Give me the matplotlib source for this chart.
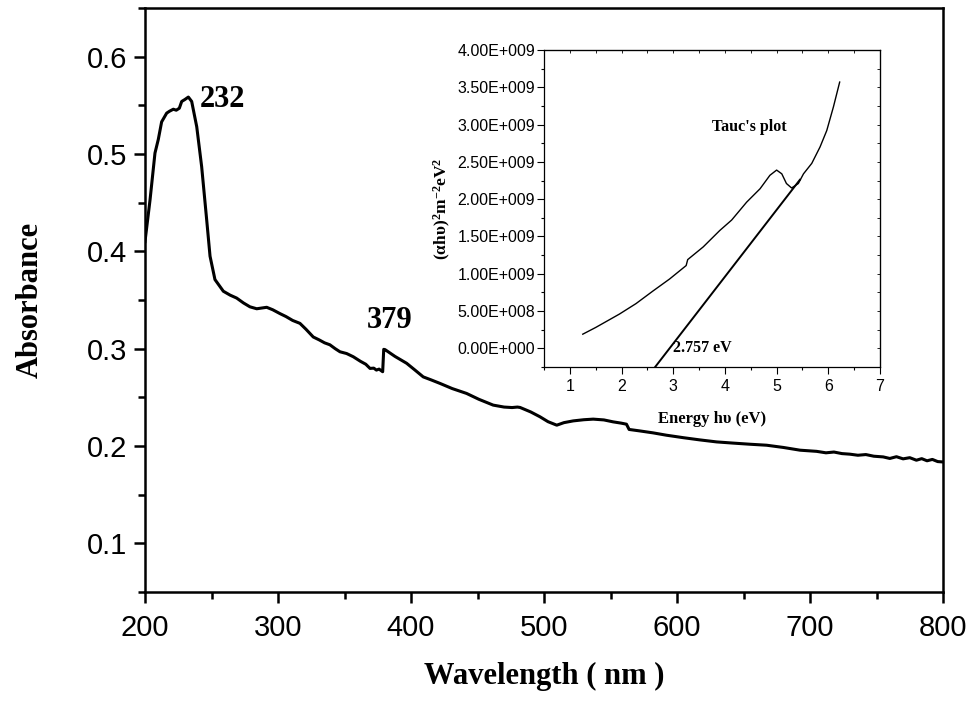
import matplotlib
matplotlib.use("Agg")
import matplotlib.pyplot as plt
from matplotlib.ticker import MultipleLocator, FuncFormatter, NullFormatter

# ---------------- data ----------------
wavelength = [200, 203.8, 207.5, 210, 212.5, 216.3, 218.5, 221.3, 223.5, 225.8, 227.6, 230,
              232.6, 235.1, 238.9, 242.6, 246.4, 248.9, 252.6, 258.9, 264, 268.9, 274,
              278.9, 284, 291.5, 296, 301.5, 306, 311, 316.5, 321, 326.5, 331, 335, 339,
              343, 346.6, 351.6, 356.6, 362, 366, 369.2, 372, 374, 376, 378.7, 379.5,
              380.5, 388, 396.7, 403, 409.2, 415, 421.8, 431, 441.8, 451, 461.8, 470, 476,
              480, 482, 490, 497, 503, 509.6, 515, 522, 530, 537, 545, 552, 558, 562, 564,
              572, 582, 592, 605, 617, 629.8, 642, 655, 667.4, 680, 692.5, 705, 712, 718,
              724, 730, 736, 742, 748, 755, 760, 765, 770, 775, 780, 784, 788, 792, 796, 799]
absorbance = [0.410, 0.453, 0.501, 0.515, 0.533, 0.542, 0.544, 0.546, 0.545, 0.547, 0.554, 0.556,
              0.5585, 0.554, 0.528, 0.487, 0.432, 0.395, 0.371, 0.359, 0.355, 0.352, 0.347,
              0.343, 0.341, 0.3425, 0.340, 0.336, 0.333, 0.329, 0.326, 0.320, 0.312, 0.309, 0.306, 0.304,
              0.300, 0.2968, 0.295, 0.2917, 0.287, 0.284, 0.2797, 0.280, 0.278, 0.279, 0.2763, 0.2993,
              0.299, 0.292, 0.285, 0.278, 0.271, 0.268, 0.2643, 0.259, 0.254, 0.248, 0.242, 0.240, 0.2395,
              0.2400, 0.2396, 0.235, 0.230, 0.225, 0.2214, 0.224, 0.2258, 0.2270, 0.2276, 0.2268, 0.2248, 0.2235, 0.2224, 0.217,
              0.2155, 0.2135, 0.2111, 0.2085, 0.2063, 0.2042, 0.2030, 0.2018, 0.2008, 0.1985, 0.1957, 0.1945, 0.1930, 0.1938,
              0.1922, 0.1916, 0.1905, 0.1912, 0.1895, 0.1888, 0.1872, 0.1890, 0.1868, 0.1880, 0.1854, 0.1870, 0.1848, 0.1862, 0.1840, 0.1837]

energy = [1.25, 1.50, 1.96, 2.28, 2.61, 2.93, 3.25, 3.28, 3.58, 3.90, 4.13, 4.42, 4.68,
          4.87, 5.00, 5.10, 5.19, 5.29, 5.42, 5.52, 5.68, 5.84, 5.97, 6.10, 6.22]
tauc = [0.19e9, 0.28e9, 0.46e9, 0.60e9, 0.77e9, 0.93e9, 1.11e9, 1.19e9, 1.36e9, 1.58e9,
        1.72e9, 1.96e9, 2.14e9, 2.32e9, 2.39e9, 2.34e9, 2.21e9, 2.15e9, 2.21e9, 2.34e9,
        2.48e9, 2.70e9, 2.92e9, 3.24e9, 3.57e9]
fit_energy = [2.65, 5.45]
fit_tauc = [-0.25e9, 2.26e9]

peak_labels = ["232", "379"]
peak_pos = [(241, 0.556), (367, 0.329)]

# ---------------- figure ----------------
plt.rcParams['mathtext.fontset'] = 'custom'
plt.rcParams['mathtext.rm'] = 'Liberation Serif:bold'
plt.rcParams['mathtext.bf'] = 'Liberation Serif:bold'
plt.rcParams['mathtext.it'] = 'Liberation Serif:bold'

SANS_NARROW = ['Liberation Sans Narrow', 'Liberation Sans']

fig = plt.figure(figsize=(9.73, 7.02), dpi=100)
ax = fig.add_axes([145/973, 1-592/702, (943-145)/973, (592-8)/702])

ax.plot(wavelength, absorbance, color='black', lw=2.2)
ax.set_xlim(200, 800)
ax.set_ylim(0.05, 0.65)
ax.xaxis.set_major_locator(MultipleLocator(100))
ax.xaxis.set_minor_locator(MultipleLocator(50))
ax.yaxis.set_major_locator(MultipleLocator(0.1))
ax.yaxis.set_minor_locator(MultipleLocator(0.05))
ax.set_yticks([0.1, 0.2, 0.3, 0.4, 0.5, 0.6])
ax.tick_params(which='major', direction='out', length=8, width=1.8,
               labelsize=21, pad=5)
ax.tick_params(axis='x', which='major', pad=8)
ax.tick_params(which='minor', direction='out', length=5, width=1.8)
for lab in ax.get_xticklabels() + ax.get_yticklabels():
    lab.set_family('Liberation Sans')
for s in ax.spines.values():
    s.set_linewidth(1.8)

ax.set_xlabel('Wavelength ( nm )', family='Liberation Serif', fontweight='bold',
              fontsize=22, labelpad=14)
ax.set_ylabel('Absorbance', family='Liberation Serif', fontweight='bold',
              fontsize=22, labelpad=30)

for t, (x, y) in zip(peak_labels, peak_pos):
    ax.text(x, y, t, family='Liberation Serif', fontweight='bold', fontsize=22,
            ha='left', va='center')

# ---------------- inset ----------------
ins = fig.add_axes([544/973, 1-367/702, (880-544)/973, (367-50)/702])
ins.plot(energy, tauc, color='black', lw=1.0)
ins.plot(fit_energy, fit_tauc, color='black', lw=1.4)
ins.set_xlim(0.5, 7)
ins.set_ylim(-0.25e9, 4.0e9)
ins.xaxis.set_major_locator(MultipleLocator(1))
ins.xaxis.set_minor_locator(MultipleLocator(0.5))
ins.yaxis.set_major_locator(MultipleLocator(0.5e9))
ins.yaxis.set_minor_locator(MultipleLocator(0.25e9))
ins.set_yticks([i * 0.5e9 for i in range(9)])


def sci_fmt(v, p):
    if v == 0:
        return "0.00E+000"
    e = int(f"{v:e}".split('e')[1])
    return "{:.2f}E+{:03d}".format(v / 10 ** e, e)


ins.yaxis.set_major_formatter(FuncFormatter(sci_fmt))
ins.tick_params(which='major', direction='out', length=5, width=0.8, labelsize=11.5, pad=1.5)
ins.tick_params(axis='x', which='major', pad=4)
ins.tick_params(which='minor', direction='out', length=2.5, width=0.8)
for lab in ins.get_xticklabels() + ins.get_yticklabels():
    lab.set_family(SANS_NARROW)
for s in ins.spines.values():
    s.set_linewidth(0.9)

# small inward ticks on top and right
top = ins.secondary_xaxis('top')
top.xaxis.set_major_locator(MultipleLocator(1))
top.xaxis.set_minor_locator(MultipleLocator(0.5))
top.xaxis.set_major_formatter(NullFormatter())
top.tick_params(which='both', direction='in', length=2, width=0.6)
right = ins.secondary_yaxis('right')
right.yaxis.set_major_locator(MultipleLocator(0.5e9))
right.yaxis.set_minor_locator(MultipleLocator(0.25e9))
right.yaxis.set_major_formatter(NullFormatter())
right.tick_params(which='both', direction='in', length=2, width=0.6)

ins.set_xlabel('Energy h\u03c5 (eV)', family='Liberation Serif', fontweight='bold',
               fontsize=12, labelpad=12)
ins.set_ylabel(r'$\mathbf{(\alpha h\upsilon)^2 m^{-2} eV^2}$', fontsize=12.5, labelpad=3)

ins.text(4.48, 2.97e9, "Tauc's plot", family='Liberation Serif', fontweight='bold',
         fontsize=11.5, ha='center', va='center')
ins.text(2.99, 0.0e9, "2.757 eV", family='Liberation Serif', fontweight='bold',
         fontsize=11.5, ha='left', va='center')

fig.savefig('out.png', dpi=100)
